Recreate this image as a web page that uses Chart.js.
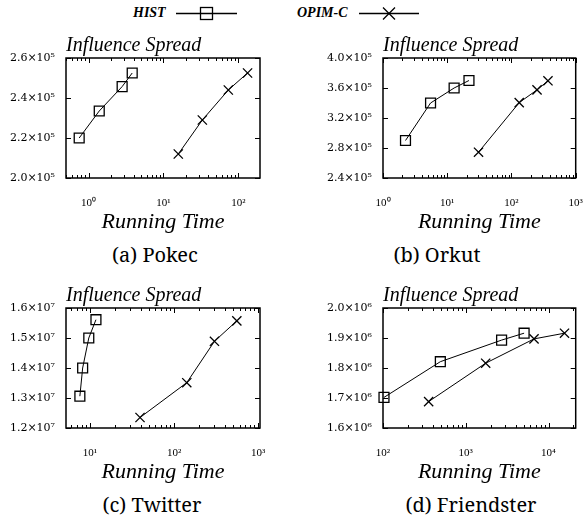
<!DOCTYPE html>
<html>
<head>
<meta charset="utf-8">
<script src="https://cdn.jsdelivr.net/npm/chart.js@4.4.1/dist/chart.umd.min.js"></script>
<style>
  body { margin: 0; background: #fff; }
  #page { position: relative; width: 584px; height: 522px; overflow: hidden; font-family: "Liberation Serif", serif; color: #000; }
  canvas { position: absolute; }
  .lab { position: absolute; top: 5px; font: italic bold 14px "Liberation Serif", serif; line-height: 16px; }
  .cap { position: absolute; width: 200px; text-align: center; font: 20px "Noto Serif", serif; line-height: 24px; }
</style>
</head>
<body>
<div id="page">
  <span class="lab" style="left:133px">HIST</span>
  <span class="lab" style="left:297px">OPIM-C</span>
  <svg style="position:absolute;left:0;top:0" width="584" height="28">
    <line x1="176" y1="13.5" x2="237" y2="13.5" stroke="#000" stroke-width="1.5"/>
    <rect x="200.5" y="7.5" width="12" height="12" fill="none" stroke="#000" stroke-width="1.3"/>
    <line x1="359" y1="13.5" x2="419" y2="13.5" stroke="#000" stroke-width="1.5"/>
    <path d="M383 7.5 L395 19.5 M383 19.5 L395 7.5" stroke="#000" stroke-width="1.3"/>
  </svg>
  <canvas id="pokec" width="292" height="205" style="left:0;top:30px"></canvas>
  <canvas id="orkut" width="292" height="205" style="left:292px;top:30px"></canvas>
  <canvas id="twitter" width="292" height="205" style="left:0;top:280px"></canvas>
  <canvas id="friendster" width="292" height="205" style="left:292px;top:280px"></canvas>
  <div class="cap" style="left:55px;top:243px">(a) Pokec</div>
  <div class="cap" style="left:337px;top:243px">(b) Orkut</div>
  <div class="cap" style="left:52px;top:493px">(c) Twitter</div>
  <div class="cap" style="left:371px;top:493px">(d) Friendster</div>
</div>
<script>
const SUP = "⁰¹²³⁴⁵⁶⁷⁸⁹";
const sup = n => String(n).split("").map(d => SUP[+d]).join("");

// (a) Pokec
const pokecHistTime = [0.75, 1.39, 2.81, 3.83];
const pokecHistSpread = [2.20e5, 2.335e5, 2.457e5, 2.525e5];
const pokecOpimTime = [15.8, 33.1, 73.6, 133];
const pokecOpimSpread = [2.12e5, 2.29e5, 2.44e5, 2.525e5];
const pokecXTicks = [1, 10, 100];
const pokecYTicks = [2.0e5, 2.2e5, 2.4e5, 2.6e5];

// (b) Orkut
const orkutHistTime = [2.24, 5.5, 12.8, 21.8];
const orkutHistSpread = [2.90e5, 3.40e5, 3.60e5, 3.70e5];
const orkutOpimTime = [30.7, 132, 250, 370];
const orkutOpimSpread = [2.744e5, 3.405e5, 3.575e5, 3.696e5];
const orkutXTicks = [1, 10, 100, 1000];
const orkutYTicks = [2.4e5, 2.8e5, 3.2e5, 3.6e5, 4.0e5];

// (c) Twitter
const twitterHistTime = [7.6, 8.2, 9.7, 11.8];
const twitterHistSpread = [1.306e7, 1.40e7, 1.50e7, 1.561e7];
const twitterOpimTime = [39.4, 141.6, 302, 557];
const twitterOpimSpread = [1.235e7, 1.351e7, 1.489e7, 1.557e7];
const twitterXTicks = [10, 100, 1000];
const twitterYTicks = [1.2e7, 1.3e7, 1.4e7, 1.5e7, 1.6e7];

// (d) Friendster
const friendsterHistTime = [102.8, 493, 2710, 5070];
const friendsterHistSpread = [1.702e6, 1.821e6, 1.893e6, 1.916e6];
const friendsterOpimTime = [356, 1740, 6680, 15600];
const friendsterOpimSpread = [1.688e6, 1.816e6, 1.897e6, 1.916e6];
const friendsterXTicks = [100, 1000, 10000];
const friendsterYTicks = [1.6e6, 1.7e6, 1.8e6, 1.9e6, 2.0e6];

// box round the plot, inward ticks, "Influence Spread" label
const framePlugin = {
  id: "frame",
  afterDraw(chart) {
    const { ctx, chartArea: a, scales: { x, y } } = chart;
    ctx.save();
    ctx.strokeStyle = "#000";
    ctx.lineWidth = 1;
    ctx.beginPath();
    const d0 = Math.floor(Math.log10(x.min)), d1 = Math.ceil(Math.log10(x.max));
    for (let d = d0; d <= d1; d++) {
      for (let k = 1; k <= 9; k++) {
        const v = k * Math.pow(10, d);
        if (v < x.min * 0.999 || v > x.max * 1.001) continue;
        const px = Math.round(x.getPixelForValue(v)) + 0.5;
        const len = k === 1 ? 5 : 3;
        ctx.moveTo(px, a.bottom); ctx.lineTo(px, a.bottom - len);
        ctx.moveTo(px, a.top); ctx.lineTo(px, a.top + len);
      }
    }
    y.ticks.forEach(t => {
      const py = Math.round(y.getPixelForValue(t.value)) + 0.5;
      ctx.moveTo(a.left, py); ctx.lineTo(a.left + 5, py);
      ctx.moveTo(a.right, py); ctx.lineTo(a.right - 5, py);
    });
    ctx.stroke();
    ctx.lineWidth = 1.5;
    ctx.strokeRect(a.left, a.top, a.right - a.left, a.bottom - a.top);
    ctx.font = 'italic 20px "Liberation Serif"';
    ctx.fillStyle = "#000";
    ctx.textBaseline = "alphabetic";
    ctx.fillText("Influence Spread", a.left, a.top - 7);
    ctx.restore();
  }
};

function makeChart(id, histT, histS, opimT, opimS, xTicks, xMin, xMax, yTicks, exp, yWidth, padRight) {
  const pts = (xs, ys) => xs.map((x, i) => ({ x: x, y: ys[i] }));
  return new Chart(document.getElementById(id), {
    type: "scatter",
    data: {
      datasets: [{
        label: "HIST",
        data: pts(histT, histS),
        showLine: true,
        borderColor: "#000",
        borderWidth: 1,
        pointStyle: "rect",
        pointRadius: 7,
        pointBorderWidth: 1.3,
        pointBorderColor: "#000",
        pointBackgroundColor: "rgba(0,0,0,0)",
        clip: false
      }, {
        label: "OPIM-C",
        data: pts(opimT, opimS),
        showLine: true,
        borderColor: "#000",
        borderWidth: 1,
        pointStyle: "crossRot",
        pointRadius: 6.5,
        pointBorderWidth: 1.3,
        pointBorderColor: "#000",
        pointBackgroundColor: "rgba(0,0,0,0)",
        clip: false
      }]
    },
    options: {
      responsive: false,
      animation: false,
      devicePixelRatio: 1,
      layout: { padding: { top: 28, right: padRight, left: 0, bottom: 0 } },
      plugins: { legend: { display: false }, tooltip: { enabled: false } },
      scales: {
        x: {
          type: "logarithmic",
          min: xMin,
          max: xMax,
          grid: { display: false, drawTicks: false },
          border: { display: false },
          afterBuildTicks: s => { s.ticks = xTicks.map(v => ({ value: v })); },
          afterFit: s => { s.height = 57; s.paddingLeft = 0; s.paddingRight = 0; },
          ticks: {
            color: "#000",
            padding: 19,
            maxRotation: 0,
            autoSkip: false,
            font: { family: "Liberation Serif", size: 11 },
            callback: v => "10" + sup(Math.round(Math.log10(v)))
          },
          title: {
            display: true,
            text: "Running Time",
            color: "#000",
            font: { family: "Liberation Serif", size: 22, style: "italic" },
            padding: { top: 0, bottom: 0 }
          }
        },
        y: {
          min: yTicks[0],
          max: yTicks[yTicks.length - 1],
          grid: { display: false, drawTicks: false },
          border: { display: false },
          afterBuildTicks: s => { s.ticks = yTicks.map(v => ({ value: v })); },
          afterFit: s => { s.width = yWidth; s.paddingTop = 0; s.paddingBottom = 0; },
          ticks: {
            color: "#000",
            padding: 11,
            font: { family: "DejaVu Serif", size: 11 },
            callback: v => (v / Math.pow(10, exp)).toFixed(1) + "×10" + sup(exp)
          }
        }
      }
    },
    plugins: [framePlugin]
  });
}

makeChart("pokec", pokecHistTime, pokecHistSpread, pokecOpimTime, pokecOpimSpread,
  pokecXTicks, 0.5, 195, pokecYTicks, 5, 66, 32);
makeChart("orkut", orkutHistTime, orkutHistSpread, orkutOpimTime, orkutOpimSpread,
  orkutXTicks, 1, 1000, orkutYTicks, 5, 91, 6);
makeChart("twitter", twitterHistTime, twitterHistSpread, twitterOpimTime, twitterOpimSpread,
  twitterXTicks, 5.2, 1050, twitterYTicks, 7, 66, 32);
makeChart("friendster", friendsterHistTime, friendsterHistSpread, friendsterOpimTime, friendsterOpimSpread,
  friendsterXTicks, 100, 21300, friendsterYTicks, 6, 91, 6);
</script>
</body>
</html>
